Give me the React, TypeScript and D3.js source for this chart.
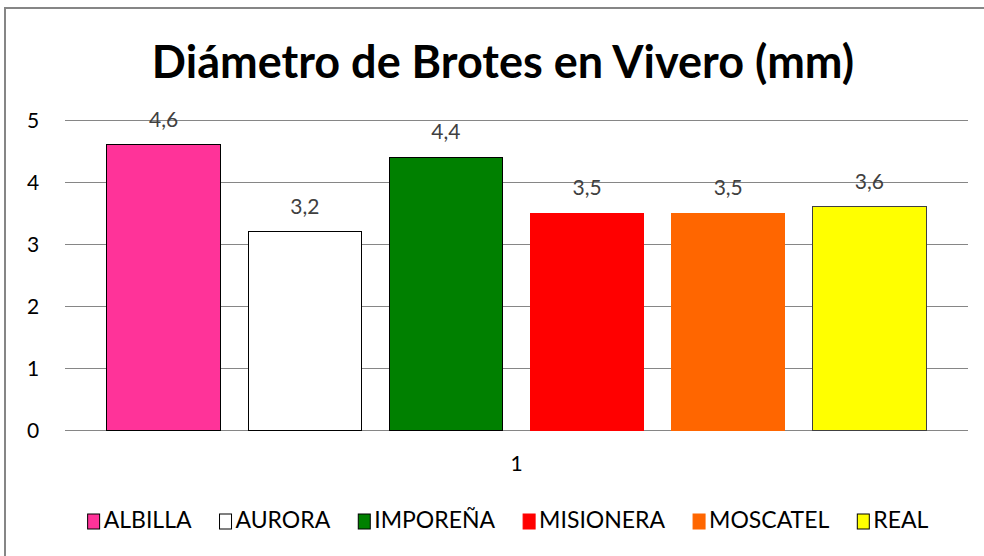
import React, { useEffect, useRef } from 'react';
import * as d3 from 'd3';

const varieties = ['ALBILLA', 'AURORA', 'IMPOREÑA', 'MISIONERA', 'MOSCATEL', 'REAL'];
const diameters = [4.6, 3.2, 4.4, 3.5, 3.5, 3.6];
const fills = ['#FF3399', '#FFFFFF', '#008000', '#FF0000', '#FF6600', '#FFFF00'];
const yTicks = [0, 1, 2, 3, 4, 5];
const categoryLabel = '1';
const title = 'Diámetro de Brotes en Vivero (mm)';

const FONT = 'Lato, "Open Sans", sans-serif';

const App = () => {
  const svgRef = useRef<SVGSVGElement>(null);

  useEffect(() => {
    const svg = d3.select(svgRef.current);
    svg.selectAll('*').remove();

    const W = 984, H = 556;
    const plot = { left: 65, right: 968, top: 120, bottom: 430 };

    // outer chart frame (right and bottom edges are cut off in the original)
    svg.append('rect')
      .attr('x', 5).attr('y', 8).attr('width', W + 20).attr('height', H + 20)
      .attr('fill', 'white').attr('stroke', '#868686').attr('stroke-width', 2);

    svg.append('text')
      .attr('x', 503).attr('y', 78)
      .attr('text-anchor', 'middle')
      .style('font-family', FONT).style('font-weight', 700).style('font-size', '45px')
      .attr('fill', '#000')
      .text(title);

    const y = d3.scaleLinear().domain([0, 5]).range([plot.bottom, plot.top]);
    const x = d3.scaleBand().domain(varieties).range([plot.left, plot.right])
      .paddingInner(0.196).paddingOuter(0.297);

    // gridlines
    svg.append('g').selectAll('line').data(yTicks).join('line')
      .attr('x1', plot.left).attr('x2', plot.right)
      .attr('y1', d => y(d)).attr('y2', d => y(d))
      .attr('stroke', '#868686').attr('stroke-width', 1)
      .attr('shape-rendering', 'crispEdges');

    svg.append('g').selectAll('text').data(yTicks).join('text')
      .attr('x', 33).attr('y', d => y(d)).attr('dy', '0.36em')
      .attr('text-anchor', 'middle')
      .style('font-family', FONT).style('font-size', '21px').attr('fill', '#000')
      .text(d => d);

    // bars
    svg.append('g').selectAll('rect').data(varieties).join('rect')
      .attr('x', d => x(d)!)
      .attr('y', (d, i) => y(diameters[i]))
      .attr('width', x.bandwidth())
      .attr('height', (d, i) => y(0) - y(diameters[i]))
      .attr('fill', (d, i) => fills[i])
      .attr('stroke', (d, i) => (i === 3 || i === 4 ? fills[i] : i === 5 ? '#404040' : '#000'))
      .attr('stroke-width', 1)
      .attr('shape-rendering', 'crispEdges');

    // value labels
    svg.append('g').selectAll('text').data(varieties).join('text')
      .attr('x', d => x(d)! + x.bandwidth() / 2)
      .attr('y', (d, i) => y(diameters[i]) - 18)
      .attr('text-anchor', 'middle')
      .style('font-family', FONT).style('font-size', '21px').attr('fill', '#404040')
      .text((d, i) => String(diameters[i]).replace('.', ','));

    svg.append('text')
      .attr('x', (plot.left + plot.right) / 2).attr('y', 471)
      .attr('text-anchor', 'middle')
      .style('font-family', FONT).style('font-size', '21px').attr('fill', '#000')
      .text(categoryLabel);

    // legend, laid out from measured text widths and centred
    const legend = svg.append('g');
    const items = legend.selectAll('g').data(varieties).join('g');
    items.append('rect')
      .attr('width', 12).attr('height', 15).attr('y', -14)
      .attr('fill', (d, i) => fills[i])
      .attr('stroke', (d, i) => (i === 3 || i === 4 ? fills[i] : '#000'))
      .attr('stroke-width', 1);
    items.append('text')
      .attr('x', 16).attr('y', 0)
      .style('font-family', FONT).style('font-size', '23px').attr('fill', '#000')
      .text(d => d);
    const gap = 28;
    let cursor = 0;
    const offsets: number[] = [];
    items.each(function () {
      const t = d3.select(this).select('text').node() as SVGTextElement;
      offsets.push(cursor);
      cursor += 16 + t.getComputedTextLength() + gap;
    });
    const total = cursor - gap;
    const start = 508 - total / 2;
    items.attr('transform', (d, i) => `translate(${start + offsets[i]},528)`);
  }, []);

  return (
    <svg ref={svgRef} width={984} height={556}
      style={{ position: 'absolute', left: 0, top: 0, background: 'white' }} />
  );
};

export default App;
